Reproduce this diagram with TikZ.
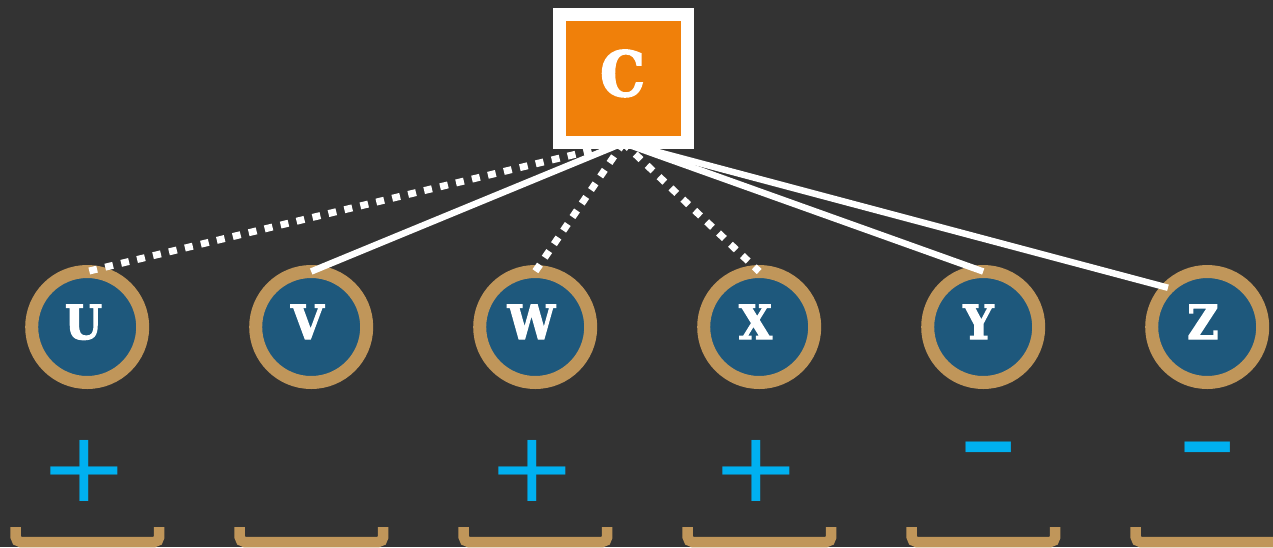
\documentclass[tikz,border=0pt]{standalone}
\usepackage{fontspec}
\newfontfamily\labfont[FakeStretch=0.9,FakeBold=3]{DejaVu Serif Bold}
\newfontfamily\signfont{DejaVu Sans}
\definecolor{bgc}{HTML}{333333}
\definecolor{ringc}{HTML}{C0965A}
\definecolor{bluec}{HTML}{1E587C}
\definecolor{orangec}{HTML}{F0800A}
\definecolor{signc}{HTML}{00B0F0}
\pgfdeclarelayer{front}
\pgfsetlayers{main,front}
\begin{document}
\begin{tikzpicture}[x=1pt,y=-1pt,
  ring/.style={circle,draw=ringc,fill=bluec,line width=13pt,minimum size=111pt,inner sep=0pt,outer sep=0pt},
  letter/.style={text=white,font=\labfont\fontsize{47}{47}\selectfont,anchor=base,inner sep=0pt},
  bigletter/.style={text=white,font=\labfont\fontsize{62}{62}\selectfont,anchor=base,inner sep=0pt},
  topbox/.style={rectangle,draw=white,fill=orangec,line width=13.3pt,minimum width=128pt,minimum height=128pt,inner sep=0pt,outer sep=0pt},
  solidedge/.style={white,line width=6.5pt},
  dotedge/.style={white,line width=7pt,dash pattern=on 8pt off 8.4pt},
  bracket/.style={draw=ringc,line width=10.5pt,rounded corners=5pt},
  plussign/.style={text=signc,font=\signfont\fontsize{107}{107}\selectfont,anchor=base,inner sep=0pt},
  minussign/.style={text=signc,font=\signfont\fontsize{94}{94}\selectfont,anchor=base,inner sep=0pt}
]
\useasboundingbox (0,0) rectangle (1273,547);
\clip (0,0) rectangle (1273,547);
\fill[bgc] (0,0) rectangle (1273,547);

% top box on front layer
\begin{pgfonlayer}{front}
\node[topbox] (C) at (623.3,78.8) {};
\node[bigletter] (Clab) at (622.5,96) {C};
\end{pgfonlayer}

% circles
\node[ring] (U) at (87.2,327) {};
\node[ring] (V) at (311.2,327) {};
\node[ring] (W) at (535.2,327) {};
\node[ring] (X) at (759.2,327) {};
\node[ring] (Y) at (983.2,327) {};
\node[ring] (Z) at (1207.2,327) {};

\node[letter] (Ulab) at (83.5,339) {U};
\node[letter] (Vlab) at (307.5,339) {V};
\node[letter] (Wlab) at (531.5,339) {W};
\node[letter] (Xlab) at (755.5,339) {X};
\node[letter] (Ylab) at (978.5,339) {Y};
\node[letter] (Zlab) at (1203,339) {Z};

% connectors
\draw[dotedge] (C.south) -- (U.north);
\draw[solidedge] (C.south) -- (V.north);
\draw[dotedge] (C.south) -- (W.north);
\draw[dotedge] (C.south) -- (X.north);
\draw[solidedge] (C.south) -- (Y.north);
\draw[solidedge] (C.south) -- (Z.north west);

% signs
\node[plussign] (pU) at (84,501) {\scalebox{1}[0.91]{+}};
\node[plussign] (pW) at (532,501) {\scalebox{1}[0.91]{+}};
\node[plussign] (pX) at (756,501) {\scalebox{1}[0.91]{+}};
\node[minussign] (mY) at (988.5,488.5) {\scalebox{1.2}[1.6]{–}};
\node[minussign] (mZ) at (1207.5,488.5) {\scalebox{1.2}[1.6]{–}};

% brackets
\foreach \cx in {87.2,311.2,535.2,759.2,983.2,1207.2}{
  \draw[bracket] (\cx-71.5,527) -- (\cx-71.5,542) -- (\cx+72,542) -- (\cx+72,527);
}
\end{tikzpicture}
\end{document}
